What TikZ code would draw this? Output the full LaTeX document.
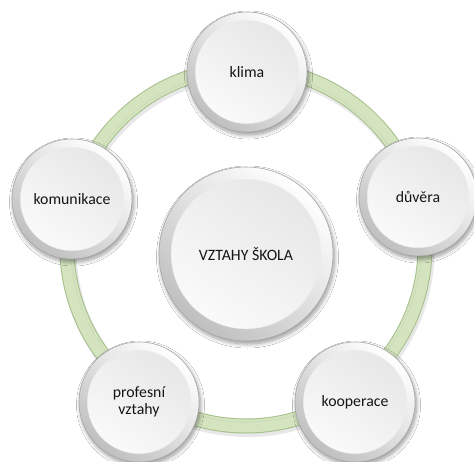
\documentclass[tikz,border=0pt]{standalone}
\usepackage{fontspec}
\setmainfont{Carlito}
\usetikzlibrary{shadows.blur}
\definecolor{ringfill}{HTML}{D3E4BF}
\definecolor{ringedge}{HTML}{A6BF8B}
\definecolor{txt}{HTML}{151515}
\tikzset{
  bubble/.style={circle, inner sep=0pt, align=center, text=txt,
    font=\fontsize{15.8}{17}\selectfont, minimum size=2*#1 pt,
    draw=gray!70, line width=0.6pt,
    top color=white, bottom color=gray!50, shading angle=-40,
    blur shadow={shadow xshift=1.5pt, shadow yshift=-3pt, shadow blur steps=10,
      shadow blur radius=4pt, shadow opacity=40},
    path picture={
      \shade[top color=gray!20, bottom color=gray!3, shading angle=-35]
        (path picture bounding box.center) circle[radius=0.86*#1 pt];
      \draw[white!85!gray, line width=0.4pt]
        (path picture bounding box.center) circle[radius=0.86*#1 pt];
    }},
  ringband/.style={ringfill, line width=13pt},
  ringrim/.style={ringedge, line width=15pt},
}
\begin{document}
\begin{tikzpicture}[x=1pt, y=-1pt]
  \useasboundingbox (0,0) rectangle (474,461);
  \fill[white] (0,0) rectangle (474,461);
  \coordinate (rc) at (246,247);
  \coordinate (rs) at (247.5,250);
  \draw[gray, opacity=0.18, line width=16pt] (rs) circle[radius=179pt];
  \draw[ringrim] (rc) circle[radius=179pt];
  \draw[ringband] (rc) circle[radius=179pt];
  \draw[ringedge!60, line width=0.6pt] (rc) circle[radius=175pt];
  \node[bubble=87] (center) at (246,254) {VZTAHY ŠKOLA};
  \node[bubble=60] (klima) at (247,72) {klima};
  \node[bubble=59] (duvera) at (418,197) {důvěra};
  \node[bubble=60] (kooperace) at (355,402) {kooperace};
  \node[bubble=60] (profesni) at (139,402) {profesní\\vztahy};
  \node[bubble=60] (komunikace) at (72,199) {komunikace};
\end{tikzpicture}
\end{document}
